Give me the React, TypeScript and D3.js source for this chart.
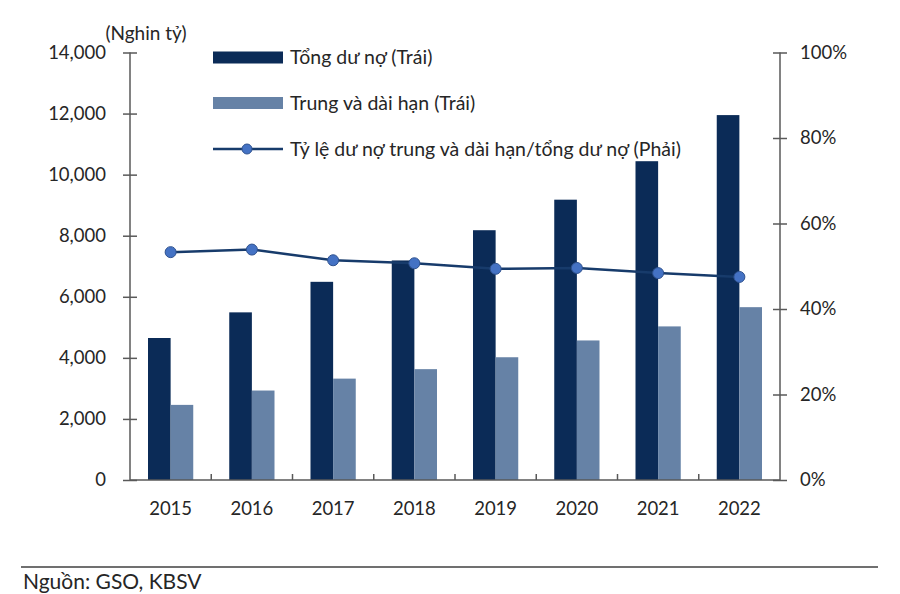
import { useCallback, useEffect, useRef } from 'react';

import { axisLeft, axisRight, line, scaleBand, scaleLinear, select } from 'd3';

const years = ['2015', '2016', '2017', '2018', '2019', '2020', '2021', '2022'];
const totalDebt = [4650, 5490, 6490, 7190, 8180, 9180, 10440, 11950];
const longTerm = [2460, 2930, 3320, 3630, 4020, 4570, 5030, 5660];
const ratio = [0.533, 0.539, 0.514, 0.507, 0.494, 0.496, 0.484, 0.475];

const leftTicks = [0, 2000, 4000, 6000, 8000, 10000, 12000, 14000];
const rightTicks = [0, 0.2, 0.4, 0.6, 0.8, 1];

const legendLabels = [
  'Tổng dư nợ (Trái)',
  'Trung và dài hạn (Trái)',
  'Tỷ lệ dư nợ trung và dài hạn/tổng dư nợ (Phải)',
];

const DARK = '#0b2b57';
const LIGHT = '#6682a6';
const AXIS = '#595959';
const TEXT = '#262626';
const FONT = 'Lato, "Open Sans", sans-serif';

export default function App() {
  const containerRef = useRef<HTMLDivElement>(null);

  const initChart = useCallback(() => {
    const container = containerRef.current;
    if (!container) return;

    const div = select(container);
    div.select('svg').remove();

    const width = 900,
      height = 594;
    const plot = { left: 130, right: 780, top: 52.5, bottom: 480 };

    const svg = div
      .append('svg')
      .attr('width', width)
      .attr('height', height)
      .style('display', 'block')
      .style('font-family', FONT);

    svg.append('rect').attr('width', width).attr('height', height).attr('fill', '#fff');

    const x = scaleBand().domain(years).range([plot.left, plot.right]);
    const y = scaleLinear().domain([0, 14000]).range([plot.bottom, plot.top]);
    const yr = scaleLinear().domain([0, 1]).range([plot.bottom, plot.top]);

    const groupPad = 18;
    const barW = (x.bandwidth() - groupPad * 2) / 2;

    // bars
    svg
      .append('g')
      .selectAll('rect')
      .data(years)
      .join('rect')
      .attr('x', (d) => Number(x(d)) + groupPad)
      .attr('y', (_, i) => y(totalDebt[i]))
      .attr('width', barW)
      .attr('height', (_, i) => y(0) - y(totalDebt[i]))
      .attr('fill', DARK);

    svg
      .append('g')
      .selectAll('rect')
      .data(years)
      .join('rect')
      .attr('x', (d) => Number(x(d)) + groupPad + barW)
      .attr('y', (_, i) => y(longTerm[i]))
      .attr('width', barW)
      .attr('height', (_, i) => y(0) - y(longTerm[i]))
      .attr('fill', LIGHT);

    // left axis
    const gl = svg
      .append('g')
      .attr('transform', `translate(${plot.left},0)`)
      .call(
        axisLeft(y)
          .tickValues(leftTicks)
          .tickSize(7)
          .tickPadding(16)
          .tickFormat((d) => Number(d).toLocaleString('en-US'))
      );
    gl.select('.domain').attr('stroke', AXIS).attr('stroke-width', 1.5).attr('d', `M0,${plot.top}V${plot.bottom}`);
    gl.selectAll('.tick line').attr('stroke', AXIS).attr('stroke-width', 1.5).attr('x2', -7).attr('x1', 7);
    gl.selectAll('.tick text')
      .attr('fill', TEXT)
      .attr('font-size', 18.5)
      .attr('font-family', FONT)
      .attr('x', -24);

    // right axis
    const gr = svg
      .append('g')
      .attr('transform', `translate(${plot.right},0)`)
      .call(
        axisRight(yr)
          .tickValues(rightTicks)
          .tickSize(7)
          .tickPadding(13)
          .tickFormat((d) => `${Math.round(Number(d) * 100)}%`)
      );
    gr.select('.domain').attr('stroke', AXIS).attr('stroke-width', 1.5).attr('d', `M0,${plot.top}V${plot.bottom}`);
    gr.selectAll('.tick line').attr('stroke', AXIS).attr('stroke-width', 1.5).attr('x1', -7).attr('x2', 7);
    gr.selectAll('.tick text')
      .attr('fill', TEXT)
      .attr('font-size', 18.5)
      .attr('font-family', FONT)
      .attr('x', 20);

    // x axis
    svg
      .append('line')
      .attr('x1', plot.left)
      .attr('x2', plot.right)
      .attr('y1', plot.bottom)
      .attr('y2', plot.bottom)
      .attr('stroke', AXIS)
      .attr('stroke-width', 1.5);

    svg
      .append('g')
      .selectAll('line')
      .data(years.slice(1))
      .join('line')
      .attr('x1', (d) => Number(x(d)))
      .attr('x2', (d) => Number(x(d)))
      .attr('y1', plot.bottom)
      .attr('y2', plot.bottom - 6)
      .attr('stroke', AXIS)
      .attr('stroke-width', 1.5);

    svg
      .append('g')
      .selectAll('text')
      .data(years)
      .join('text')
      .attr('x', (d) => Number(x(d)) + x.bandwidth() / 2)
      .attr('y', 515)
      .attr('text-anchor', 'middle')
      .attr('font-size', 18.5)
      .attr('fill', TEXT)
      .text((d) => d);

    // ratio line
    const cx = (i: number) => Number(x(years[i])) + x.bandwidth() / 2;
    const ratioLine = line<number>()
      .x((_, i) => cx(i))
      .y((d) => yr(d));

    svg
      .append('path')
      .datum(ratio)
      .attr('d', ratioLine)
      .attr('fill', 'none')
      .attr('stroke', '#173b6b')
      .attr('stroke-width', 2.5);

    svg
      .append('g')
      .selectAll('circle')
      .data(ratio)
      .join('circle')
      .attr('cx', (_, i) => cx(i))
      .attr('cy', (d) => yr(d))
      .attr('r', 5.5)
      .attr('fill', '#4472c4')
      .attr('stroke', '#2f528f')
      .attr('stroke-width', 1);

    // axis title
    svg
      .append('text')
      .attr('x', 146)
      .attr('y', 40)
      .attr('text-anchor', 'middle')
      .attr('font-size', 19)
      .attr('fill', TEXT)
      .text('(Nghin tỷ)');

    // legend
    const lg = svg.append('g');
    const legendY = [57.5, 103, 149];
    lg.append('rect').attr('x', 213).attr('y', legendY[0] - 6).attr('width', 70).attr('height', 12).attr('fill', DARK);
    lg.append('rect').attr('x', 213).attr('y', legendY[1] - 6).attr('width', 70).attr('height', 12).attr('fill', LIGHT);
    lg.append('line')
      .attr('x1', 213)
      .attr('x2', 283)
      .attr('y1', legendY[2])
      .attr('y2', legendY[2])
      .attr('stroke', '#173b6b')
      .attr('stroke-width', 2.5);
    lg.append('circle')
      .attr('cx', 247)
      .attr('cy', legendY[2])
      .attr('r', 5)
      .attr('fill', '#4472c4')
      .attr('stroke', '#2f528f');
    lg.selectAll('text')
      .data(legendLabels)
      .join('text')
      .attr('x', 290)
      .attr('y', (_, i) => legendY[i] + 6.5)
      .attr('font-size', 19.5)
      .attr('fill', TEXT)
      .text((d) => d);

    // source
    svg
      .append('line')
      .attr('x1', 21)
      .attr('x2', 878)
      .attr('y1', 567)
      .attr('y2', 567)
      .attr('stroke', '#404040')
      .attr('stroke-width', 1.5);
    svg
      .append('text')
      .attr('x', 23)
      .attr('y', 589)
      .attr('font-size', 21)
      .attr('fill', TEXT)
      .text('Nguồn: GSO, KBSV');
  }, []);

  const destroyChart = useCallback(() => {
    const container = containerRef.current;
    if (!container) return;
    select(container).select('svg').remove();
  }, []);

  useEffect(() => {
    initChart();
    return destroyChart;
  }, [destroyChart, initChart]);

  return <div ref={containerRef} style={{ position: 'absolute', left: 0, top: 0 }} />;
}
